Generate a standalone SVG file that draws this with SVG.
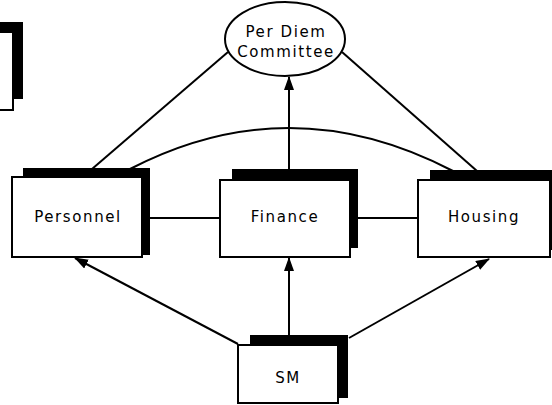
<svg xmlns="http://www.w3.org/2000/svg" width="552" height="405" viewBox="0 0 552 405">
<style>
.sh{fill:#000}
.bx{fill:#fff;stroke:#000;stroke-width:2}
.t{font-family:"DejaVu Sans","Liberation Sans",sans-serif;font-size:15px;fill:#000;text-anchor:middle;letter-spacing:1.6px}
.c{fill:none;stroke:#000;stroke-width:2}
</style>
<defs>
<marker id="ah" markerWidth="14" markerHeight="10" refX="13" refY="5" orient="auto" markerUnits="userSpaceOnUse">
<path d="M0,0 L14,5 L0,10 Z" fill="#000"/>
</marker>
</defs>
<rect width="552" height="405" fill="#fff"/>
<g id="connectors">
<line class="c" x1="92" y1="169" x2="228" y2="52"/>
<line class="c" x1="477" y1="171" x2="342" y2="52"/>
<path class="c" d="M130,169 Q290,86 453,171"/>
<line class="c" x1="289" y1="169" x2="289" y2="77" marker-end="url(#ah)"/>
<line class="c" x1="143" y1="218" x2="220" y2="218"/>
<line class="c" x1="358" y1="218" x2="418" y2="218"/>
<line class="c" x1="289" y1="335" x2="289" y2="258" marker-end="url(#ah)"/>
<line class="c" x1="238" y1="344" x2="75" y2="258" marker-end="url(#ah)"/>
<line class="c" x1="349" y1="338" x2="489" y2="259" marker-end="url(#ah)"/>
</g>
<g id="partial">
<rect class="sh" x="-10" y="22" width="33" height="77"/>
<rect class="bx" x="-20" y="32" width="33" height="78"/>
</g>
<g id="perdiem">
<ellipse class="bx" cx="285" cy="39" rx="60" ry="37"/>
<text class="t" x="286" y="37">Per Diem</text>
<text class="t" x="286" y="57">Committee</text>
</g>
<g id="personnel">
<rect class="sh" x="23" y="168" width="127" height="87"/>
<rect class="bx" x="12" y="177" width="130" height="80"/>
<text class="t" x="78" y="222">Personnel</text>
</g>
<g id="finance">
<rect class="sh" x="232" y="169" width="126" height="79"/>
<rect class="bx" x="220" y="180" width="130" height="77"/>
<text class="t" x="285" y="222">Finance</text>
</g>
<g id="housing">
<rect class="sh" x="430" y="170" width="130" height="80"/>
<rect class="bx" x="418" y="180" width="132" height="77"/>
<text class="t" x="484" y="222">Housing</text>
</g>
<g id="sm">
<rect class="sh" x="250" y="335" width="98" height="63"/>
<rect class="bx" x="238" y="345" width="100" height="58"/>
<text class="t" x="288" y="383">SM</text>
</g>
</svg>
